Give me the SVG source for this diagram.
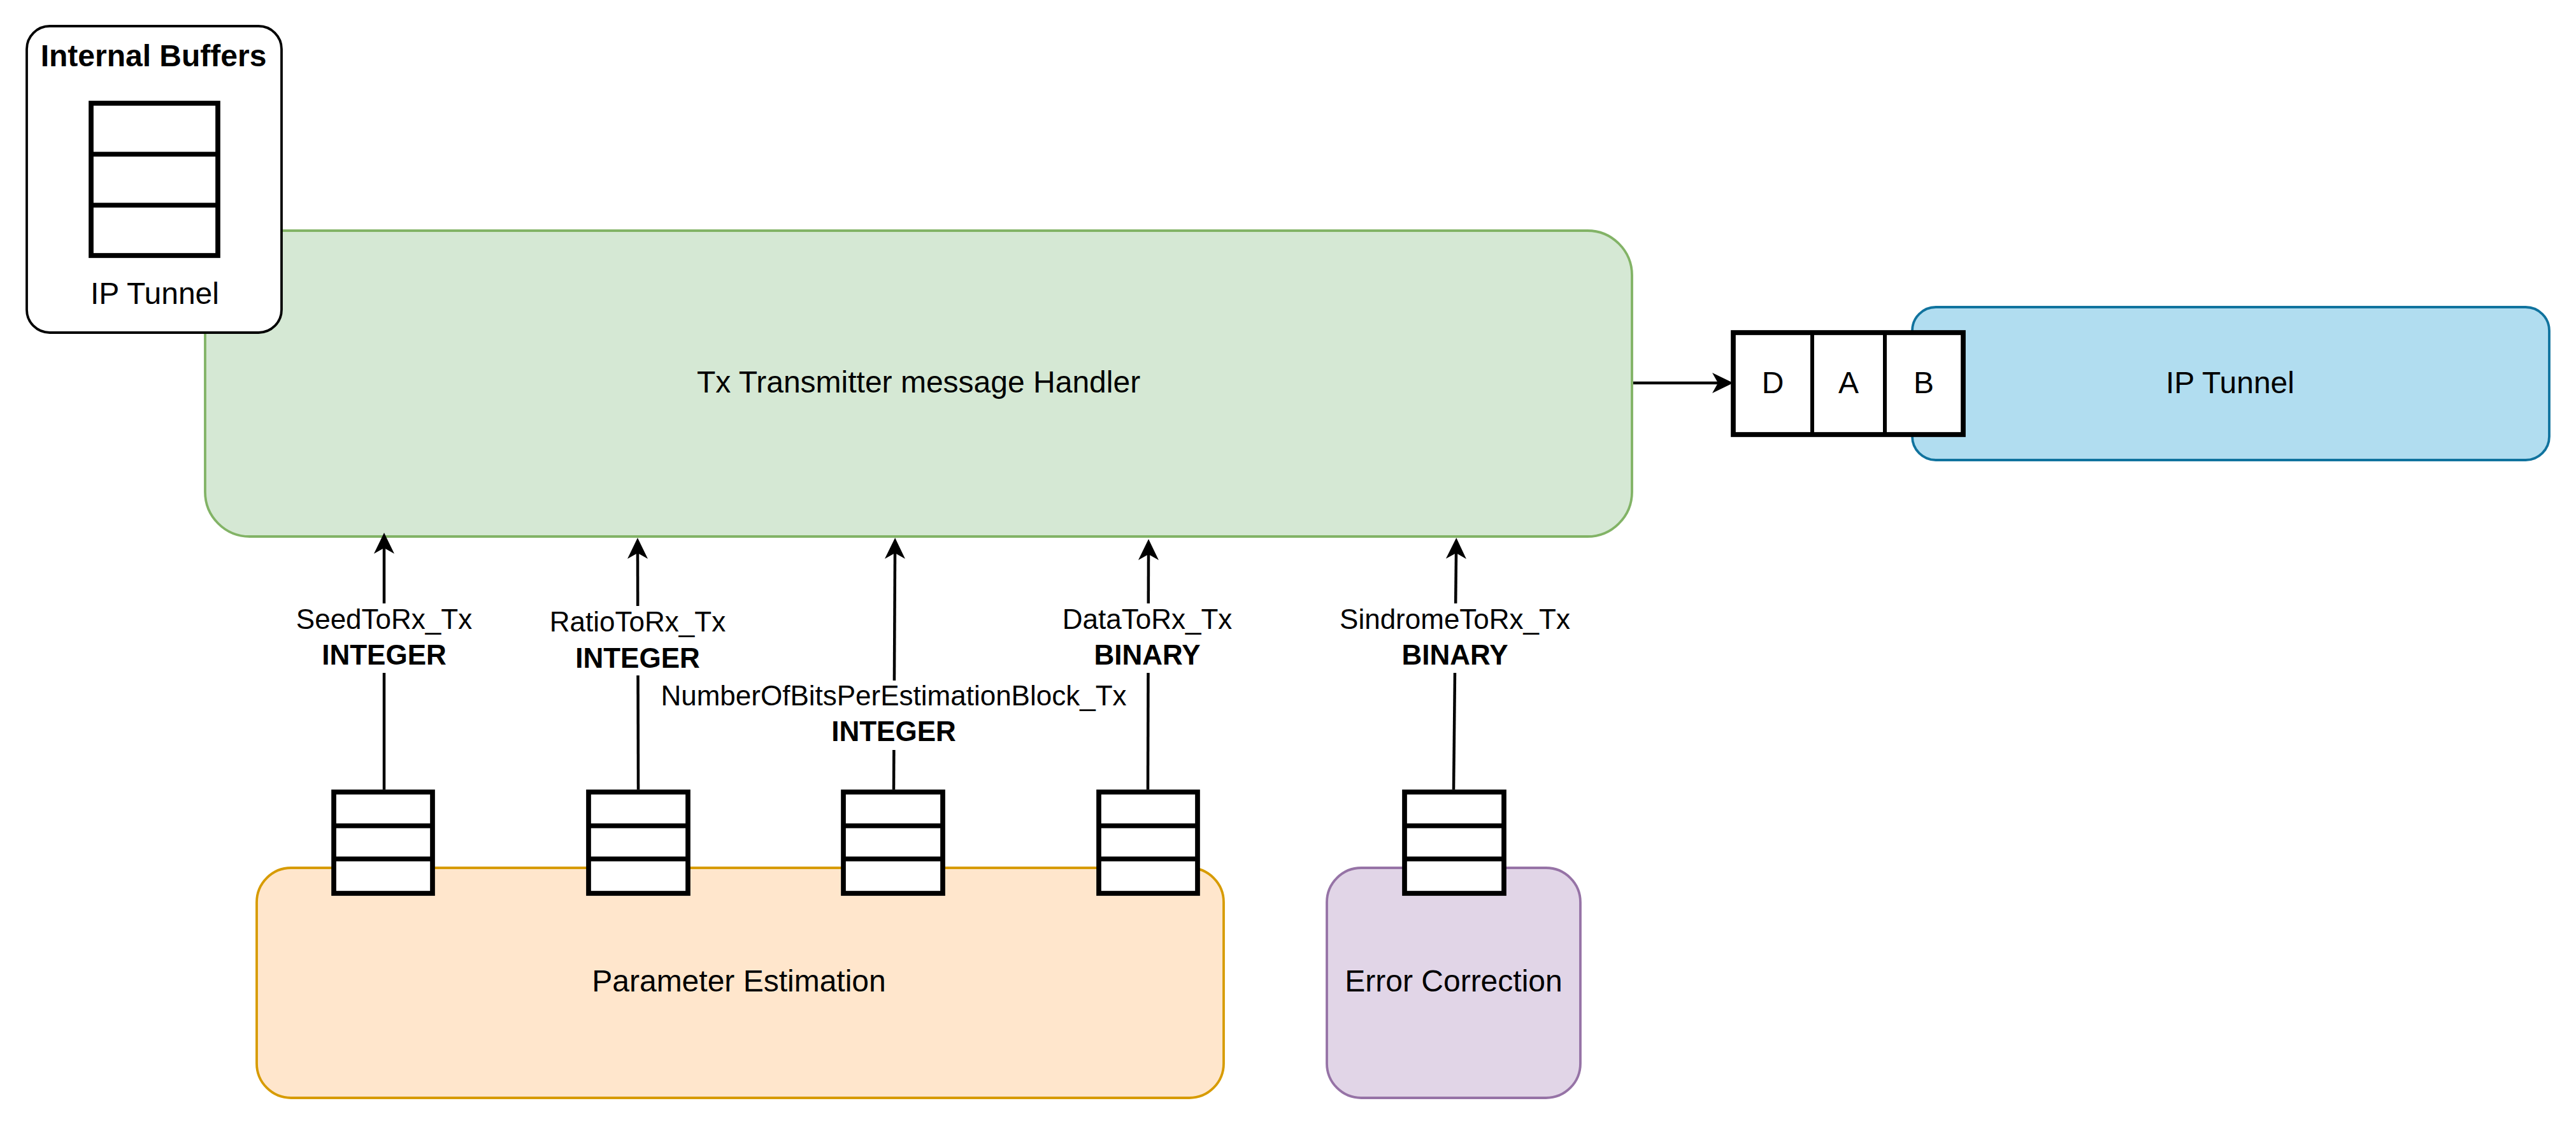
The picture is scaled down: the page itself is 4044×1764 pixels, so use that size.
<svg xmlns="http://www.w3.org/2000/svg" width="4044" height="1764" viewBox="0 0 4044 1764">
  <style>
    text { font-family: "Liberation Sans", Arial, sans-serif; fill: #000; }
    .t { font-size: 48px; text-anchor: middle; }
    .tb { font-size: 48px; font-weight: bold; text-anchor: middle; }
    .lbl { font-size: 44px; text-anchor: middle; }
    .lblb { font-size: 44px; font-weight: bold; text-anchor: middle; }
    .buf { fill: #fff; stroke: #000; stroke-width: 7.7; }
    .div { fill: none; stroke: #000; stroke-width: 7.7; }
    .conn { fill: none; stroke: #000; stroke-width: 4.5; marker-end: url(#arr); }
    .lblbg { fill: #fff; stroke: none; }
  </style>
  <defs>
    <marker id="arr" viewBox="-40 -20 44 40" markerWidth="44" markerHeight="40" refX="-24" refY="0" orient="auto" markerUnits="userSpaceOnUse">
      <path d="M0,0 L-33,-16 L-24,0 L-33,16 Z" fill="#000"/>
    </marker>
  </defs>
  <rect width="4044" height="1764" fill="#fff"/>

  <g id="tx-handler">
    <rect x="322" y="362" width="2240" height="480" rx="70" ry="70" fill="#d5e8d4" stroke="#82b366" stroke-width="3.8"/>
    <text class="t" x="1442" y="616">Tx Transmitter message Handler</text>
  </g>

  <g id="internal-buffers">
    <rect x="42" y="41" width="400" height="481" rx="36" ry="36" fill="#fff" stroke="#000" stroke-width="3.8"/>
    <text class="tb" x="241" y="104">Internal Buffers</text>
    <rect class="buf" x="143" y="162" width="199" height="239"/>
    <line class="div" x1="143" y1="242" x2="342" y2="242"/>
    <line class="div" x1="143" y1="322" x2="342" y2="322"/>
    <text class="t" x="243" y="477">IP Tunnel</text>
  </g>

  <g id="ip-tunnel">
    <rect x="3002" y="482" width="1000" height="240" rx="37" ry="37" fill="#b1ddf0" stroke="#10739e" stroke-width="3.8"/>
    <text class="t" x="3501" y="617">IP Tunnel</text>
  </g>

  <g id="queue-dab">
    <rect class="buf" x="2721" y="522" width="361" height="160"/>
    <line x1="2845" y1="522" x2="2845" y2="682" stroke="#000" stroke-width="6"/>
    <line x1="2959" y1="522" x2="2959" y2="682" stroke="#000" stroke-width="6"/>
    <text class="t" x="2783" y="617">D</text>
    <text class="t" x="2902" y="617">A</text>
    <text class="t" x="3020" y="617">B</text>
  </g>

  <g id="parameter-estimation">
    <rect x="403" y="1362" width="1518" height="361" rx="54" ry="54" fill="#ffe6cc" stroke="#d79b00" stroke-width="3.8"/>
    <text class="t" x="1160" y="1556">Parameter Estimation</text>
  </g>

  <g id="error-correction">
    <rect x="2083" y="1362" width="398" height="361" rx="54" ry="54" fill="#e1d5e7" stroke="#9673a6" stroke-width="3.8"/>
    <text class="t" x="2282" y="1556">Error Correction</text>
  </g>

  <g id="buffer-seed">
    <rect class="buf" x="524" y="1243" width="155" height="159"/>
    <line class="div" x1="524" y1="1296" x2="679" y2="1296"/>
    <line class="div" x1="524" y1="1348" x2="679" y2="1348"/>
  </g>
  <g id="buffer-ratio">
    <rect class="buf" x="924" y="1243" width="156" height="159"/>
    <line class="div" x1="924" y1="1296" x2="1080" y2="1296"/>
    <line class="div" x1="924" y1="1348" x2="1080" y2="1348"/>
  </g>
  <g id="buffer-bits">
    <rect class="buf" x="1324" y="1243" width="156" height="159"/>
    <line class="div" x1="1324" y1="1296" x2="1480" y2="1296"/>
    <line class="div" x1="1324" y1="1348" x2="1480" y2="1348"/>
  </g>
  <g id="buffer-data">
    <rect class="buf" x="1725" y="1243" width="155" height="159"/>
    <line class="div" x1="1725" y1="1296" x2="1880" y2="1296"/>
    <line class="div" x1="1725" y1="1348" x2="1880" y2="1348"/>
  </g>
  <g id="buffer-sindrome">
    <rect class="buf" x="2205" y="1243" width="156" height="159"/>
    <line class="div" x1="2205" y1="1296" x2="2361" y2="1296"/>
    <line class="div" x1="2205" y1="1348" x2="2361" y2="1348"/>
  </g>

  <g id="connectors">
    <line class="conn" x1="2564" y1="601" x2="2697" y2="601"/>

    <line class="conn" x1="603" y1="1239" x2="603" y2="860"/>
    <rect class="lblbg" x="458" y="947" width="290" height="109"/>
    <text class="lbl" x="603" y="987">SeedToRx_Tx</text>
    <text class="lblb" x="603" y="1043">INTEGER</text>

    <line class="conn" x1="1002" y1="1239" x2="1001" y2="868"/>
    <rect class="lblbg" x="858" y="951" width="286" height="109"/>
    <text class="lbl" x="1001" y="991">RatioToRx_Tx</text>
    <text class="lblb" x="1001" y="1048">INTEGER</text>

    <line class="conn" x1="1403" y1="1239" x2="1405" y2="868"/>
    <rect class="lblbg" x="1030" y="1068" width="746" height="109"/>
    <text class="lbl" x="1403" y="1107">NumberOfBitsPerEstimationBlock_Tx</text>
    <text class="lblb" x="1403" y="1163">INTEGER</text>

    <line class="conn" x1="1802" y1="1239" x2="1803" y2="870"/>
    <rect class="lblbg" x="1662" y="947" width="278" height="109"/>
    <text class="lbl" x="1801" y="987">DataToRx_Tx</text>
    <text class="lblb" x="1801" y="1043">BINARY</text>

    <line class="conn" x1="2282" y1="1239" x2="2286" y2="868"/>
    <rect class="lblbg" x="2102" y="947" width="364" height="109"/>
    <text class="lbl" x="2284" y="987">SindromeToRx_Tx</text>
    <text class="lblb" x="2284" y="1043">BINARY</text>
  </g>
</svg>
